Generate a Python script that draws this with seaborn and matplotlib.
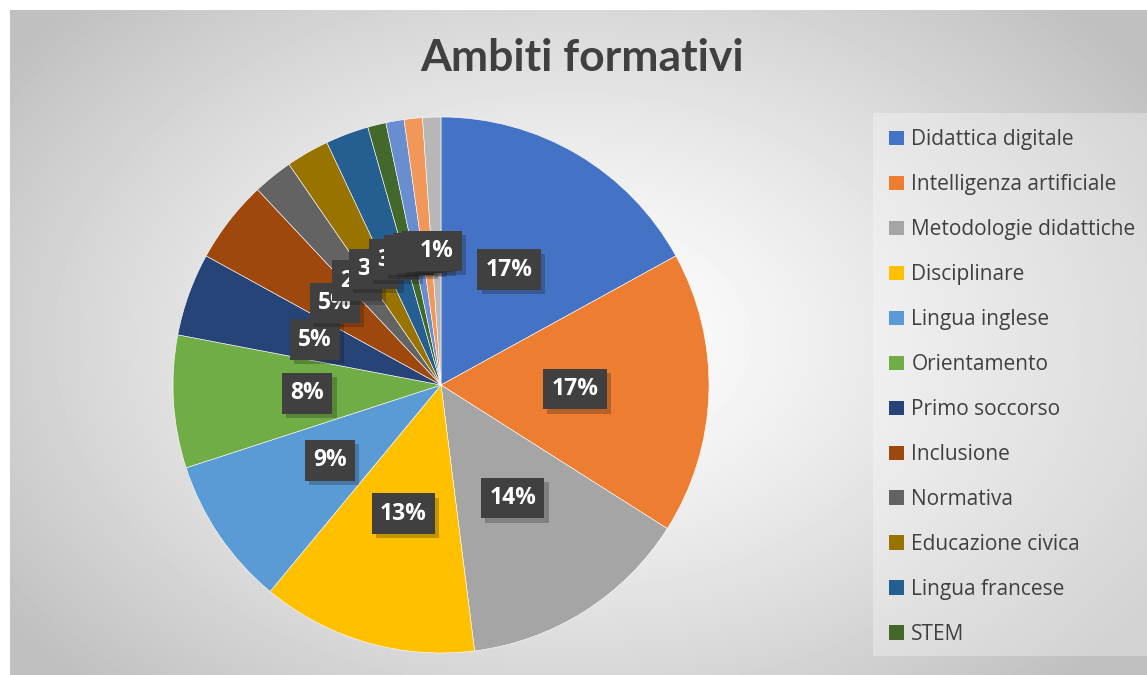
import numpy as np
import seaborn as sns
import matplotlib.pyplot as plt
import matplotlib.patheffects as pe
from matplotlib.patches import Rectangle

# data (percent shares)
categories = ["Didattica digitale", "Intelligenza artificiale", "Metodologie didattiche",
              "Disciplinare", "Lingua inglese", "Orientamento", "Primo soccorso",
              "Inclusione", "Normativa", "Educazione civica", "Lingua francese", "STEM",
              "Altro 1", "Altro 2", "Altro 3"]
shares = [17, 17, 14, 13, 9, 8, 5, 5, 2.4, 2.6, 2.6, 1.1, 1.1, 1.1, 1.1]
legend_count = 12  # the legend box is cut off after STEM

colors = sns.color_palette(["#4472C4", "#ED7D31", "#A5A5A5", "#FFC000", "#5B9BD5",
                            "#70AD47", "#264478", "#9E480E", "#636363", "#997300",
                            "#255E91", "#43682B", "#698ED0", "#F1975A", "#B7B7B7"])

sns.set_theme(style="white")
plt.rcParams['font.family'] = ['Open Sans', 'DejaVu Sans']

W, H = 1147, 675
fig = plt.figure(figsize=(W / 100, H / 100), dpi=100)
fig.patch.set_facecolor("white")

# radial grey background of the chart area
bg = fig.add_axes([10 / W, 0, 1 - 10 / W, 1 - 10 / H])
yy, xx = np.mgrid[0:665, 0:1137]
d = np.sqrt(((xx - 560) / 700.0) ** 2 + ((yy - 330) / 480.0) ** 2)
shade = 1.0 - 0.25 * np.clip(d, 0, 1) ** 1.3
bg.imshow(shade, cmap="gray", vmin=0, vmax=1, aspect="auto", interpolation="bilinear")
bg.set_axis_off()

# legend backdrop
fig.patches.append(Rectangle((873 / W, 1 - 656 / H), (W - 873) / W, (656 - 113) / H,
                             transform=fig.transFigure, facecolor="white", alpha=0.3,
                             edgecolor="none", zorder=1))

# pie
cx, cy, r = 441, 385, 268
ax = fig.add_axes([(cx - r) / W, (H - cy - r) / H, 2 * r / W, 2 * r / H])
wedges, texts, autotexts = ax.pie(
    shares, colors=colors, startangle=90, counterclock=False,
    autopct=lambda p: f"{p:.0f}%", pctdistance=0.5,
    wedgeprops=dict(edgecolor="white", linewidth=0.4),
    textprops=dict(color="white", fontsize=16.5, fontweight="bold"))
ax.set_xlim(-1, 1)
ax.set_ylim(-1, 1)
ax.set_axis_off()

for t in autotexts:
    t.set_bbox(dict(boxstyle="square,pad=0.36", facecolor="#404040", edgecolor="none"))
    t.get_bbox_patch().set_path_effects([pe.SimplePatchShadow(offset=(3, -3), alpha=0.25),
                                         pe.Normal()])

# title
fig.text(582 / W, 1 - 58 / H, "Ambiti formativi", ha="center", va="center",
         fontsize=32, fontweight="bold", color="#404040",
         family=['Lato', 'DejaVu Sans'])

# legend
leg = fig.legend(wedges[:legend_count], categories[:legend_count],
                 loc="upper left", bbox_to_anchor=(879 / W, 1 - 119 / H),
                 frameon=False, fontsize=15, labelcolor="#404040",
                 handlelength=0.7, handleheight=0.7, handletextpad=0.35,
                 labelspacing=1.15, borderpad=0)
for h in leg.legend_handles:
    h.set_edgecolor("none")

fig.savefig("out.png", dpi=100)
